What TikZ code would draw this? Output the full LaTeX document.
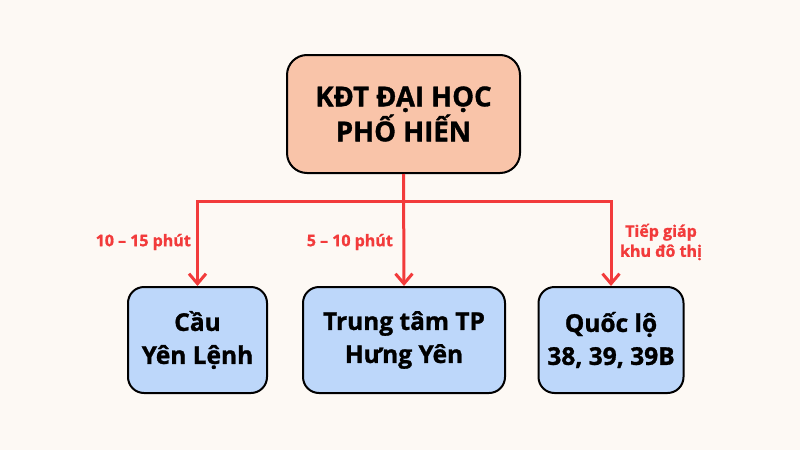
\documentclass[tikz,border=0pt]{standalone}
\usepackage{fontspec}
\setmainfont{Open Sans}[BoldFont={* Bold}, BoldFeatures={FakeBold=1.2}]
\usetikzlibrary{arrows.meta}
\definecolor{bgc}{HTML}{FDF9F4}
\definecolor{peach}{HTML}{F9C4A9}
\definecolor{bluec}{HTML}{BDD7FA}
\definecolor{redc}{HTML}{F23B3B}
\tikzset{
  box/.style={draw=black, line width=2pt, rounded corners=16pt, align=center, font=\bfseries, inner sep=0pt},
  topbox/.style={box, fill=peach, minimum width=233pt, minimum height=118pt, font=\bfseries\fontsize{27.5}{35}\selectfont, rounded corners=20pt},
  botbox/.style={box, fill=bluec, minimum height=106pt, font=\bfseries\fontsize{24.5}{33}\selectfont},
  arr/.style={draw=redc, line width=3pt, -{Straight Barb[length=10pt,width=17pt]}},
  lbl/.style={text=redc, font=\bfseries\fontsize{16}{20}\selectfont, inner sep=0pt, align=center}
}
\begin{document}
\begin{tikzpicture}[x=1pt,y=-1pt]
\fill[bgc] (0,0) rectangle (800,450);
\useasboundingbox (0,0) rectangle (800,450);
\node[topbox] (top) at (403.5,114) {KĐT ĐẠI HỌC\\PHỐ HIẾN};
\node[botbox, minimum width=139pt] (left) at (197.5,340) {Cầu\\Yên Lệnh};
\node[botbox, minimum width=202pt] (mid) at (404,340) {Trung tâm TP\\Hưng Yên};
\node[botbox, minimum width=145pt] (right) at (611,340) {Quốc lộ\\38, 39, 39B};
\coordinate (j) at (403.5,201);
\draw[arr] (top.south) -- (mid.north);
\draw[arr] (j) -| (left.north);
\draw[arr] (j) -| (right.north);
\node[lbl, anchor=east] (l1) at (191,242) {10 – 15 phút};
\node[lbl, anchor=east] (l2) at (393,242) {5 – 10 phút};
\node[lbl] (l3) at (661,242) {Tiếp giáp\\khu đô thị};
\end{tikzpicture}
\end{document}
